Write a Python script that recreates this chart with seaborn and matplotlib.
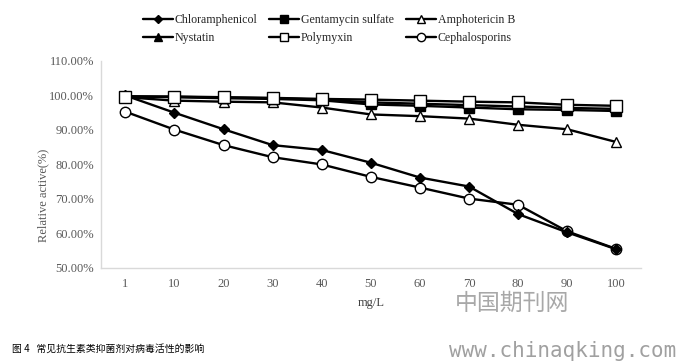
import matplotlib
matplotlib.use('Agg')
import matplotlib.pyplot as plt
import pandas as pd
import seaborn as sns

# Data (relative activity, %)
doses = ['1', '10', '20', '30', '40', '50', '60', '70', '80', '90', '100']
chloramphenicol = [100.0, 95.0, 90.2, 85.6, 84.2, 80.5, 76.2, 73.6, 65.6, 60.3, 55.4]
gentamycin = [99.7, 99.5, 99.2, 99.0, 98.6, 97.4, 97.0, 96.5, 96.0, 95.8, 95.5]
amphotericin = [99.5, 98.5, 98.2, 98.0, 96.5, 94.5, 94.0, 93.3, 91.5, 90.2, 86.5]
nystatin = [99.8, 99.6, 99.4, 99.2, 98.8, 98.0, 97.6, 97.2, 96.8, 96.4, 96.1]
polymyxin = [99.6, 99.7, 99.5, 99.3, 99.0, 98.8, 98.5, 98.2, 98.0, 97.3, 97.0]
cephalosporins = [95.3, 90.1, 85.6, 82.1, 80.0, 76.4, 73.3, 70.1, 68.3, 60.6, 55.5]

series = {
    'Chloramphenicol': chloramphenicol,
    'Gentamycin sulfate': gentamycin,
    'Amphotericin B': amphotericin,
    'Nystatin': nystatin,
    'Polymyxin': polymyxin,
    'Cephalosporins': cephalosporins,
}
styles = {
    'Chloramphenicol': dict(marker='D', mfc='black', ms=5.5),
    'Gentamycin sulfate': dict(marker='s', mfc='black', ms=7),
    'Amphotericin B': dict(marker='^', mfc='white', ms=7.5),
    'Nystatin': dict(marker='^', mfc='black', ms=7.5),
    'Polymyxin': dict(marker='s', mfc='white', ms=8),
    'Cephalosporins': dict(marker='o', mfc='white', ms=7.5),
}

rows = []
for name, vals in series.items():
    for i, v in enumerate(vals):
        rows.append({'name': name, 'pos': i, 'value': v / 100.0})
df = pd.DataFrame(rows)

sns.set_style('white')
plt.rcParams['font.family'] = ['Liberation Serif', 'DejaVu Serif']

fig = plt.figure(figsize=(6.81, 3.63), dpi=100)
ax = fig.add_axes([0.148, 0.262, 0.793, 0.570])

draw_order = ['Cephalosporins', 'Chloramphenicol', 'Amphotericin B',
              'Gentamycin sulfate', 'Nystatin', 'Polymyxin']
handles = {}
for name in draw_order:
    st = styles[name]
    sub = df[df['name'] == name]
    sns.lineplot(data=sub, x='pos', y='value', ax=ax, color='black',
                 linewidth=1.7, marker=st['marker'], markersize=st['ms'],
                 markerfacecolor=st['mfc'], markeredgecolor='black',
                 markeredgewidth=1.0, label=name, legend=False)
    handles[name] = ax.lines[-1]

ax.set_xlim(-0.5, 10.5)
ax.set_ylim(0.5, 1.1)
ax.set_xticks(range(len(doses)))
ax.set_xticklabels(doses)
yt = [0.5, 0.6, 0.7, 0.8, 0.9, 1.0, 1.1]
ax.set_yticks(yt)
ax.set_yticklabels(['%.2f%%' % (t * 100) for t in yt])
ax.tick_params(axis='both', labelsize=9, colors='#595959', length=0)
ax.tick_params(axis='y', pad=5)
ax.tick_params(axis='x', pad=7)
ax.set_xlabel('mg/L', fontsize=9, color='#404040')
ax.xaxis.set_label_coords(0.5, -0.14)
ax.set_ylabel('Relative active(%)', fontsize=9, color='#595959')
ax.yaxis.set_label_coords(-0.096, 0.35)

for side in ['top', 'right']:
    ax.spines[side].set_visible(False)
for side in ['left', 'bottom']:
    ax.spines[side].set_color('#d9d9d9')
    ax.spines[side].set_linewidth(1.0)

legend_order = ['Chloramphenicol', 'Nystatin', 'Gentamycin sulfate',
                'Polymyxin', 'Amphotericin B', 'Cephalosporins']
fig.legend([handles[n] for n in legend_order], legend_order, ncol=3,
           loc='center', bbox_to_anchor=(0.483, 0.92), frameon=False,
           fontsize=8.6, handlelength=2.5, handletextpad=0.15,
           columnspacing=1.0, labelspacing=0.5, markerscale=0.8)

cjk = ['Noto Sans CJK SC', 'DejaVu Sans']
fig.text(0.018, 0.038, '图 4   常见抗生素类抑菌剂对病毒活性的影响', family=cjk,
         fontsize=7.1, color='black', va='center')
fig.text(0.668, 0.165, '中国期刊网', family=cjk, fontsize=16.5,
         color='#a8a8a8', va='center', fontweight='light')
fig.text(0.66, 0.033, 'www.chinaqking.com', family='DejaVu Sans Mono',
         fontsize=15, color='#a0a0a0', va='center')

plt.savefig('out.png', dpi=100)
